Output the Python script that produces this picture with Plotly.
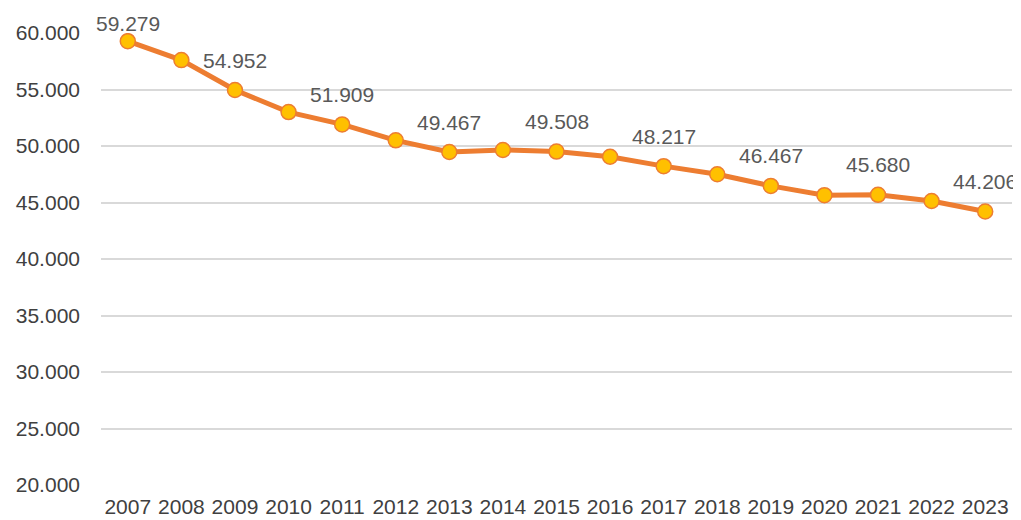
import plotly.graph_objects as go

years = [str(y) for y in range(2007, 2024)]
values = [59279, 57600, 54952, 53000, 51909, 50500, 49467, 49650, 49508,
          49050, 48217, 47500, 46467, 45650, 45680, 45130, 44206]
label_years = ["2007", "2009", "2011", "2013", "2015", "2017", "2019", "2021", "2023"]
y_ticks = [20000, 25000, 30000, 35000, 40000, 45000, 50000, 55000, 60000]


def fmt(v):
    return f"{v:,}".replace(",", ".")


FONT = "Liberation Sans, Arial, sans-serif"

fig = go.Figure()
fig.add_trace(go.Scatter(
    x=years, y=values, mode="lines+markers",
    line=dict(color="#ED7D31", width=5),
    marker=dict(size=15, color="#FFC000", line=dict(color="#ED7D31", width=1.5)),
    hoverinfo="x+y",
))

for yr in label_years:
    i = years.index(yr)
    v = values[i]
    fig.add_annotation(
        x=i, y=v, text=fmt(v), showarrow=False,
        yshift=18 if yr == "2007" else 30,
        font=dict(family=FONT, size=21, color="#595959"),
    )

# page body has an 8px default margin, so the figure is sized to fit the window
fig.update_layout(
    width=1013, height=512,
    margin=dict(l=93, r=9, t=25, b=35),
    paper_bgcolor="white", plot_bgcolor="white",
    showlegend=False,
    font=dict(family=FONT, size=21, color="#404040"),
)
fig.update_xaxes(
    type="category", range=[-0.5, len(years) - 0.5],
    showgrid=False, showline=False, zeroline=False, automargin=False,
    ticks="", tickfont=dict(family=FONT, size=21, color="#404040"),
    ticklabelstandoff=7,
)
fig.update_yaxes(
    range=[20000, 60000], tickvals=y_ticks, ticktext=[fmt(v) for v in y_ticks],
    showgrid=True, gridcolor="#D9D9D9", gridwidth=1.5, zeroline=False,
    showline=False, automargin=False,
    ticks="", tickfont=dict(family=FONT, size=21, color="#404040"),
    ticklabelstandoff=20,
)

fig.write_html("out.html")
